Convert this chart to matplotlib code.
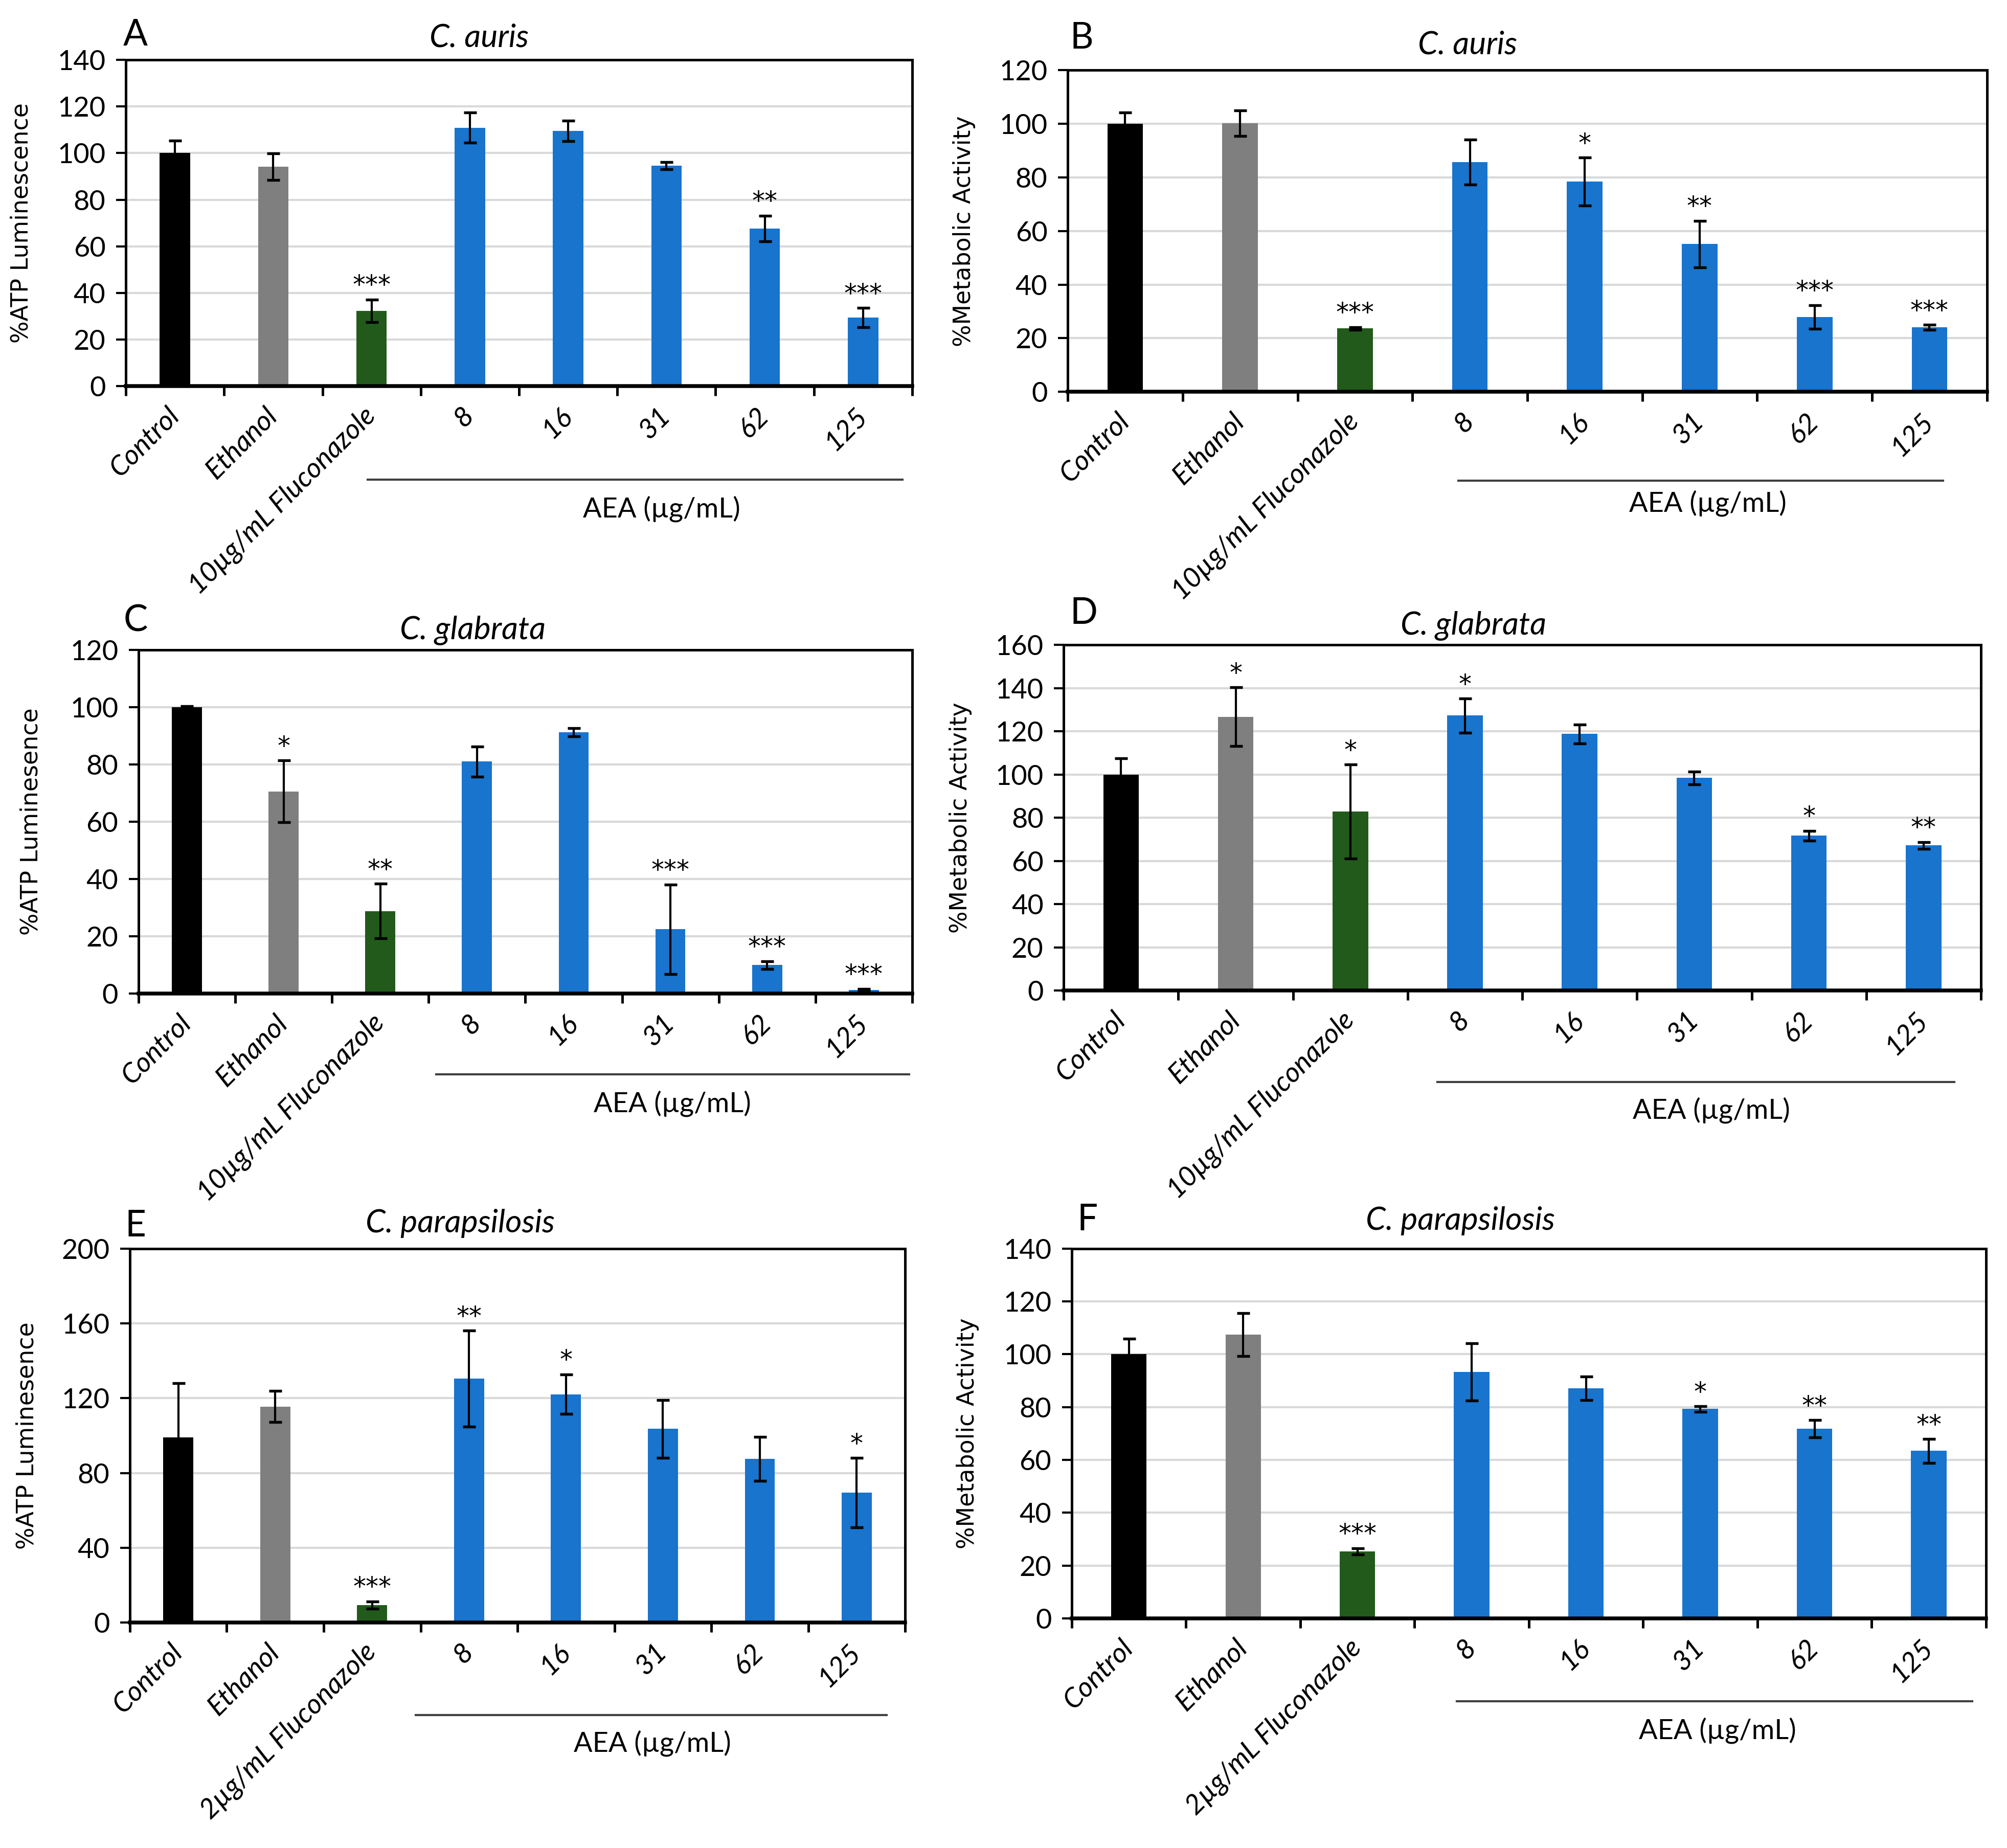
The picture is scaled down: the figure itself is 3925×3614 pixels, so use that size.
import matplotlib
matplotlib.use('Agg')
import matplotlib.pyplot as plt
import numpy as np

plt.rcParams['font.family'] = ['Lato', 'DejaVu Sans']

# ------------------------------------------------------------
# data
# ------------------------------------------------------------
groups_flu10 = ['Control', 'Ethanol', '10µg/mL Fluconazole', '8', '16', '31', '62', '125']
groups_flu2 = ['Control', 'Ethanol', '2µg/mL Fluconazole', '8', '16', '31', '62', '125']
bar_colors = ['#000000', '#7f7f7f', '#225a1c', '#1874cd', '#1874cd', '#1874cd', '#1874cd', '#1874cd']

# A: C. auris, ATP
a_vals = [100, 94.2, 32.4, 110.9, 109.5, 94.6, 67.7, 29.5]
a_errs = [5.3, 5.7, 4.8, 6.5, 4.4, 1.6, 5.5, 4.1]
a_sig = ['', '', '***', '', '', '', '**', '***']

# B: C. auris, metabolic activity
b_vals = [100, 100.2, 23.6, 85.8, 78.4, 55.1, 27.9, 24.1]
b_errs = [4.3, 4.7, 0.5, 8.4, 9.0, 8.7, 4.4, 0.9]
b_sig = ['', '', '***', '', '*', '**', '***', '***']

# C: C. glabrata, ATP
c_vals = [100, 70.6, 28.8, 81.0, 91.2, 22.4, 9.9, 1.3]
c_errs = [0.3, 10.8, 9.5, 5.3, 1.4, 15.7, 1.4, 0.3]
c_sig = ['', '*', '**', '', '', '***', '***', '***']

# D: C. glabrata, metabolic activity
d_vals = [100, 126.8, 82.8, 127.3, 118.8, 98.4, 71.7, 67.2]
d_errs = [7.6, 13.5, 21.8, 7.9, 4.4, 3.0, 2.2, 1.5]
d_sig = ['', '*', '*', '*', '', '', '*', '**']

# E: C. parapsilosis, ATP
e_vals = [99, 115.6, 9.3, 130.5, 122.1, 103.6, 87.6, 69.5]
e_errs = [29.0, 8.3, 2.0, 25.6, 10.6, 15.5, 11.7, 18.6]
e_sig = ['', '', '***', '**', '*', '', '', '*']

# F: C. parapsilosis, metabolic activity
f_vals = [100, 107.4, 25.3, 93.3, 87.1, 79.3, 71.8, 63.4]
f_errs = [5.9, 8.1, 1.2, 10.8, 4.5, 1.0, 3.3, 4.5]
f_sig = ['', '', '***', '', '', '*', '**', '**']

# ------------------------------------------------------------
# layout: [left, bottom, width, height], ylabel x, title xy, line/label y
# ------------------------------------------------------------
panels = [
    dict(letter='A', title='C. auris', ylabel='%ATP Luminescence', groups=groups_flu10,
         vals=a_vals, errs=a_errs, sig=a_sig, ymax=140, step=20,
         box=[0.0627, 0.791, 0.3918, 0.1766], ylx=-0.118, title_xy=(0.449, 1.067),
         line=(1.96, 7.40, -0.286), aea=(4.95, -0.376), letter_xy=(0.0675, 0.981)),
    dict(letter='B', title='C. auris', ylabel='%Metabolic Activity', groups=groups_flu10,
         vals=b_vals, errs=b_errs, sig=b_sig, ymax=120, step=20,
         box=[0.532, 0.788, 0.458, 0.174], ylx=-0.100, title_xy=(0.435, 1.078),
         line=(2.90, 7.12, -0.277), aea=(5.07, -0.346), letter_xy=(0.539, 0.9795)),
    dict(letter='C', title='C. glabrata', ylabel='%ATP Luminesence', groups=groups_flu10,
         vals=c_vals, errs=c_errs, sig=c_sig, ymax=120, step=20,
         box=[0.069, 0.4624, 0.3855, 0.1859], ylx=-0.124, title_xy=(0.432, 1.057),
         line=(2.58, 7.47, -0.235), aea=(5.02, -0.320), letter_xy=(0.0675, 0.664)),
    dict(letter='D', title='C. glabrata', ylabel='%Metabolic Activity', groups=groups_flu10,
         vals=d_vals, errs=d_errs, sig=d_sig, ymax=160, step=20,
         box=[0.530, 0.464, 0.457, 0.187], ylx=-0.100, title_xy=(0.447, 1.055),
         line=(2.76, 7.27, -0.265), aea=(5.15, -0.346), letter_xy=(0.540, 0.668)),
    dict(letter='E', title='C. parapsilosis', ylabel='%ATP Luminesence', groups=groups_flu2,
         vals=e_vals, errs=e_errs, sig=e_sig, ymax=200, step=40,
         box=[0.0647, 0.122, 0.3863, 0.2023], ylx=-0.118, title_xy=(0.426, 1.067),
         line=(2.45, 7.31, -0.248), aea=(4.89, -0.323), letter_xy=(0.0675, 0.3365)),
    dict(letter='F', title='C. parapsilosis', ylabel='%Metabolic Activity', groups=groups_flu2,
         vals=f_vals, errs=f_errs, sig=f_sig, ymax=140, step=20,
         box=[0.534, 0.1243, 0.4555, 0.2000], ylx=-0.101, title_xy=(0.425, 1.075),
         line=(2.87, 7.38, -0.224), aea=(5.15, -0.304), letter_xy=(0.5417, 0.3398)),
]

fig = plt.figure(figsize=(3925 / 300, 3614 / 300), dpi=300)

for p in panels:
    ax = fig.add_axes(p['box'])
    n = len(p['groups'])
    x = np.arange(n)

    ax.bar(x, p['vals'], width=0.31, color=bar_colors, zorder=2)
    ax.errorbar(x, p['vals'], yerr=p['errs'], fmt='none', ecolor='black',
                elinewidth=1.0, capsize=3, capthick=1.3, zorder=3)

    # significance stars
    for i in range(n):
        if p['sig'][i]:
            ax.annotate(p['sig'][i], (x[i], p['vals'][i] + p['errs'][i]),
                        xytext=(0, 3), textcoords='offset points',
                        ha='center', va='baseline', fontsize=12,
                        family='DejaVu Sans')

    ax.set_xlim(-0.5, n - 0.5)
    ax.set_ylim(0, p['ymax'])
    ax.set_yticks(np.arange(0, p['ymax'] + 1, p['step']))
    ax.tick_params(axis='y', direction='out', length=4.5, width=1.0, labelsize=13, pad=5)

    # x ticks at category boundaries, labels at centers
    ax.set_xticks(np.arange(-0.5, n, 1.0))
    ax.set_xticklabels([])
    ax.set_xticks(x, minor=True)
    ax.set_xticklabels(p['groups'], minor=True, rotation=45, ha='right', va='center',
                       rotation_mode='anchor', fontsize=13, style='italic')
    ax.tick_params(axis='x', which='major', direction='out', length=4.5, width=1.2)
    ax.tick_params(axis='x', which='minor', length=0, pad=12)

    ax.yaxis.grid(True, color='#d9d9d9', linewidth=1.0)
    ax.set_axisbelow(True)
    for side in ['top', 'right', 'left']:
        ax.spines[side].set_linewidth(1.2)
    ax.spines['bottom'].set_linewidth(1.8)

    ax.set_ylabel(p['ylabel'], family='DejaVu Sans', fontsize=11)
    ax.yaxis.set_label_coords(p['ylx'], 0.5)

    ax.text(p['title_xy'][0], p['title_xy'][1], p['title'], transform=ax.transAxes,
            ha='center', va='center', style='italic', fontsize=15)

    # AEA bracket line + label under the concentrations
    trans = ax.get_xaxis_transform()
    x0, x1, ly = p['line']
    ax.plot([x0, x1], [ly, ly], color='#404040', linewidth=1.0,
            transform=trans, clip_on=False)
    ax.text(p['aea'][0], p['aea'][1], 'AEA (µg/mL)', transform=trans,
            ha='center', va='center', fontsize=13)

    fig.text(p['letter_xy'][0], p['letter_xy'][1], p['letter'],
             ha='center', va='center', fontsize=17)

fig.savefig('out.png', dpi=300)
